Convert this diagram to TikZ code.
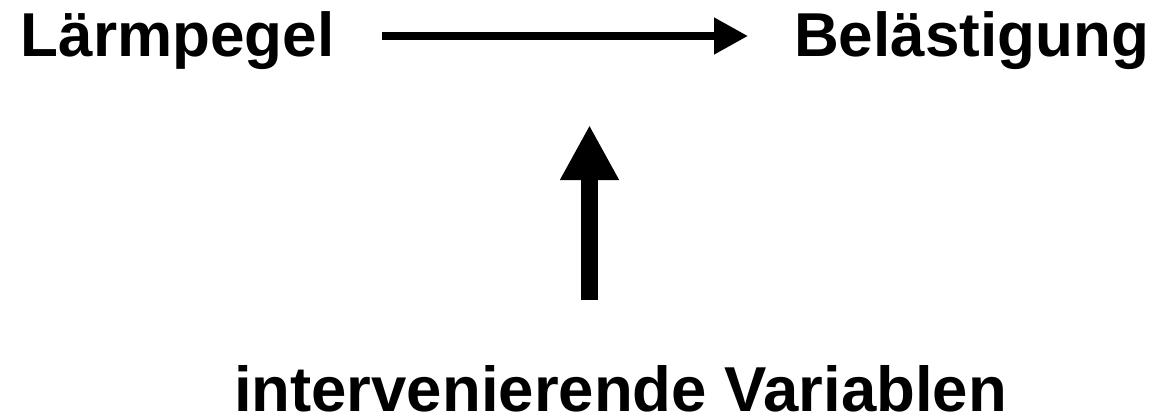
\documentclass[tikz,border=0pt]{standalone}
\usepackage{fontspec}
\setmainfont{Liberation Sans}
\usetikzlibrary{arrows.meta}
\begin{document}
\begin{tikzpicture}[x=1pt,y=1pt,
  lbl/.style={inner sep=0pt,anchor=base,font=\bfseries\fontsize{62}{70}\selectfont},
  lblb/.style={inner sep=0pt,anchor=base,font=\bfseries\fontsize{63.5}{70}\selectfont},
  harrow/.style={line width=7.7pt,-{Triangle[length=34pt,width=35pt]}},
  varrow/.style={line width=17pt,-{Triangle[length=55pt,width=55pt]}}]
\useasboundingbox[fill=white] (0,0) rectangle (1155,-417);
\node[lbl] (L) at (177.5,-57) {Lärmpegel};
\node[lbl] (B) at (971.5,-57) {Belästigung};
\node[lblb] (V) at (620.5,-411) {intervenierende Variablen};
\coordinate (h1) at (382,-36);
\coordinate (h2) at (748,-36);
\coordinate (v1) at (589.5,-300);
\coordinate (v2) at (589.5,-125);
\draw[harrow] (h1) -- (h2);
\draw[varrow] (v1) -- (v2);
\end{tikzpicture}
\end{document}
